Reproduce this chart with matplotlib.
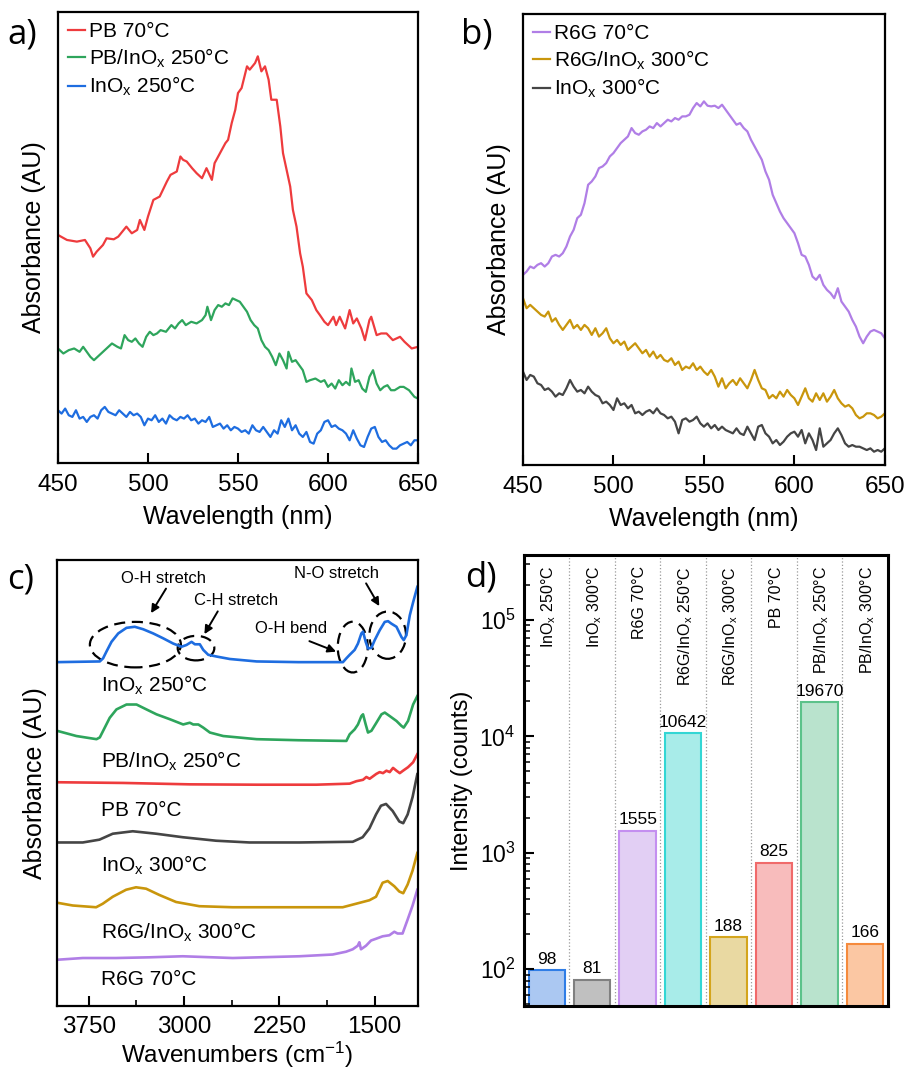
import matplotlib
matplotlib.use("Agg")
import matplotlib.pyplot as plt
from matplotlib.patches import Ellipse
from matplotlib.transforms import blended_transform_factory
from matplotlib.ticker import LogLocator, NullFormatter, MultipleLocator
import numpy as np

plt.rcParams["font.family"] = ["Liberation Sans", "DejaVu Sans"]
plt.rcParams["mathtext.fontset"] = "custom"
plt.rcParams["mathtext.rm"] = "Liberation Sans"
plt.rcParams["mathtext.it"] = "Liberation Sans:italic"
plt.rcParams["mathtext.bf"] = "Liberation Sans:bold"

SUBX = r"InO$_\mathrm{x}$"

# ---------------- panel a: UV-Vis, PB series (arbitrary units) ----------------
wl_pb70 = [450, 455, 460.5, 465, 468, 469.5, 471.5, 475, 477, 481,
           483.5, 486.5, 488, 491, 494, 495.5, 498, 500, 503, 506.5,
           510.5, 512.5, 516, 518, 519.5, 521.5, 524.5, 527, 530, 532.5,
           535.5, 537, 540, 543, 544.5, 546.5, 548.5, 550, 552, 555,
           556.5, 559.5, 561, 563, 565, 567, 568.5, 571.5, 573.5, 575,
           577, 579, 580.5, 582.5, 584.5, 586, 588, 591, 593.5, 595.5,
           598, 600, 603, 604.5, 606.5, 609.5, 612, 614, 616, 618.5,
           620.5, 623, 624, 627, 629.5, 632.5, 636, 640, 642.5, 646.5,
           650]
ab_pb70 = [695, 680, 675, 680, 655, 630, 645, 665, 685, 682,
           690, 710, 720, 700, 710, 740, 710, 750, 800, 810,
           855, 875, 885, 930, 920, 915, 895, 880, 865, 895,
           860, 910, 940, 970, 980, 1030, 1070, 1120, 1135, 1200,
           1190, 1210, 1230, 1185, 1200, 1160, 1100, 1100, 1020, 940,
           890, 840, 770, 720, 640, 600, 520, 500, 470, 455,
           435, 425, 450, 425, 450, 415, 470, 430, 445, 415,
           380, 440, 450, 395, 400, 400, 380, 390, 375, 355,
           360]

wl_pbinox250 = [450, 453, 456, 459, 462, 464, 466, 468, 470, 472,
                474, 477, 480, 483, 485, 487, 489, 491, 493, 495,
                497, 499, 501, 503, 505, 507, 510, 513, 515, 517,
                519, 521, 524, 527, 530, 532, 533, 535, 537, 539,
                541, 543, 545, 547, 549, 551, 553, 555, 557, 559,
                561, 563, 565, 567, 569, 571, 573, 575, 577, 578,
                580, 582, 584, 586, 588, 590, 593, 596, 598, 600,
                602, 604, 606, 608, 610, 612, 613, 615, 617, 619,
                621, 623, 625, 627, 629, 631, 633, 635, 637, 640,
                642, 645, 648, 650]
ab_pbinox250 = [355, 340, 350, 355, 345, 360, 345, 330, 320, 330,
                340, 355, 370, 360, 355, 395, 380, 375, 385, 370,
                360, 390, 405, 395, 400, 410, 405, 425, 415, 430,
                440, 425, 435, 430, 440, 455, 480, 440, 470, 485,
                480, 490, 485, 505, 500, 495, 480, 465, 440, 425,
                415, 380, 360, 350, 330, 305, 340, 320, 295, 345,
                315, 320, 305, 290, 255, 260, 265, 255, 260, 240,
                250, 235, 260, 245, 255, 245, 295, 255, 260, 235,
                225, 270, 290, 250, 230, 240, 245, 230, 230, 240,
                240, 230, 210, 205]

wl_grid = [450, 452, 454, 456, 458, 460, 462, 464, 466, 468,
           470, 472, 474, 476, 478, 480, 482, 484, 486, 488,
           490, 492, 494, 496, 498, 500, 502, 504, 506, 508,
           510, 512, 514, 516, 518, 520, 522, 524, 526, 528,
           530, 532, 534, 536, 538, 540, 542, 544, 546, 548,
           550, 552, 554, 556, 558, 560, 562, 564, 566, 568,
           570, 572, 574, 576, 578, 580, 582, 584, 586, 588,
           590, 592, 594, 596, 598, 600, 602, 604, 606, 608,
           610, 612, 614, 616, 618, 620, 622, 624, 626, 628,
           630, 632, 634, 636, 638, 640, 642, 644, 646, 648,
           650]
ab_inox250 = [170, 160, 175, 155, 150, 170, 145, 150, 135, 150,
              155, 145, 170, 180, 165, 160, 155, 170, 160, 150,
              165, 155, 160, 150, 125, 145, 140, 155, 135, 145,
              130, 155, 145, 140, 150, 145, 155, 140, 145, 130,
              140, 135, 150, 120, 125, 130, 115, 125, 110, 120,
              115, 105, 110, 100, 125, 110, 105, 120, 105, 90,
              110, 100, 140, 120, 145, 110, 125, 100, 90, 105,
              75, 70, 100, 110, 135, 140, 120, 125, 115, 110,
              100, 80, 110, 85, 65, 60, 90, 115, 120, 90,
              75, 80, 65, 55, 55, 65, 70, 75, 65, 80,
              80]

# ---------------- panel b: UV-Vis, R6G series ----------------
ab_r6g70 = [575, 585, 600, 595, 605, 610, 600, 610, 630, 635,
            630, 640, 660, 690, 710, 745, 755, 790, 845, 855,
            870, 895, 900, 910, 930, 940, 955, 970, 980, 990,
            1015, 1000, 995, 1005, 1010, 1020, 1015, 1030, 1020, 1030,
            1040, 1035, 1045, 1040, 1050, 1050, 1055, 1075, 1090, 1080,
            1095, 1082, 1080, 1082, 1075, 1085, 1070, 1055, 1040, 1025,
            1030, 1015, 1005, 980, 960, 940, 920, 885, 860, 815,
            790, 765, 745, 730, 715, 700, 670, 635, 630, 605,
            570, 560, 575, 545, 530, 520, 505, 535, 495, 480,
            465, 440, 420, 390, 370, 390, 405, 410, 405, 400,
            385]
ab_r6ginox300 = [505, 475, 485, 475, 465, 455, 450, 465, 435, 445,
                 425, 410, 425, 440, 415, 425, 410, 425, 415, 395,
                 415, 390, 400, 415, 385, 370, 380, 365, 375, 350,
                 360, 370, 355, 340, 350, 330, 345, 325, 335, 320,
                 315, 325, 305, 315, 290, 300, 295, 310, 290, 300,
                 285, 275, 290, 270, 240, 265, 235, 250, 260, 245,
                 265, 250, 235, 260, 290, 260, 235, 230, 205, 215,
                 205, 225, 210, 230, 215, 205, 185, 210, 235, 205,
                 195, 220, 200, 220, 195, 210, 230, 205, 190, 180,
                 185, 175, 155, 145, 150, 160, 160, 155, 145, 150,
                 160]
ab_inox300 = [285, 260, 275, 270, 250, 245, 230, 235, 225, 210,
              220, 215, 235, 260, 240, 225, 230, 220, 240, 225,
              215, 210, 190, 195, 185, 170, 205, 185, 190, 175,
              185, 160, 165, 155, 165, 170, 160, 175, 160, 155,
              145, 150, 135, 100, 140, 145, 135, 140, 150, 130,
              120, 130, 115, 125, 110, 120, 110, 105, 100, 115,
              100, 95, 120, 100, 80, 120, 125, 100, 90, 70,
              80, 65, 75, 90, 100, 105, 90, 110, 70, 100,
              80, 50, 115, 60, 70, 80, 100, 115, 95, 70,
              60, 65, 60, 60, 55, 50, 55, 45, 50, 45,
              55]

# ---------------- panel c: FTIR (offset, arbitrary units) ----------------
wn_c_inox250 = [4000, 3663, 3637, 3611, 3571, 3518, 3453, 3388, 3322, 3243,
                3164, 3085, 3020, 2981, 2941, 2915, 2876, 2849, 2810, 2744,
                2640, 2429, 2100, 1750, 1723, 1697, 1658, 1632, 1605, 1592,
                1571, 1553, 1526, 1500, 1461, 1421, 1395, 1369, 1329, 1290,
                1272, 1251, 1224, 1198, 1165]
ab_c_inox250 = [995, 997, 1006, 1025, 1053, 1077, 1093, 1096, 1089, 1077,
                1063, 1048, 1039, 1044, 1053, 1046, 1046, 1030, 1016, 1011,
                1004, 997, 995, 995, 1006, 1016, 1030, 1048, 1077, 1082,
                1053, 1034, 1036, 1058, 1086, 1110, 1112, 1105, 1096, 1067,
                1058, 1072, 1129, 1166, 1210]
wn_c_pbinox250 = [4000, 3847, 3689, 3663, 3624, 3585, 3532, 3453, 3374, 3296,
                  3217, 3112, 3007, 2955, 2928, 2888, 2849, 2797, 2692, 2429,
                  2100, 1723, 1697, 1658, 1632, 1605, 1592, 1571, 1553, 1526,
                  1487, 1447, 1421, 1382, 1329, 1290, 1272, 1238, 1198, 1165]
ab_c_pbinox250 = [799, 784, 775, 780, 808, 836, 860, 874, 874, 860,
                  846, 832, 817, 822, 817, 817, 808, 794, 784, 775,
                  772, 770, 789, 803, 817, 841, 846, 817, 794, 799,
                  822, 846, 851, 841, 827, 813, 808, 827, 874, 898]
wn_c_pb70 = [4000, 3479, 2955, 2429, 1959, 1697, 1644, 1592, 1566, 1540,
             1487, 1461, 1435, 1408, 1382, 1356, 1329, 1303, 1277, 1238,
             1198, 1165]
ab_c_pb70 = [652, 650, 646, 645, 645, 648, 655, 659, 667, 662,
             676, 681, 678, 685, 681, 693, 685, 678, 685, 695,
             709, 732]
wn_c_inox300 = [4000, 3797, 3666, 3561, 3404, 3220, 3011, 2748, 2486, 2093,
                1673, 1595, 1542, 1490, 1451, 1411, 1359, 1307, 1276, 1241,
                1202, 1165]
ab_c_inox300 = [480, 480, 488, 505, 512, 505, 495, 485, 480, 480,
                482, 495, 520, 560, 585, 590, 570, 540, 535, 560,
                610, 675]
wn_c_r6ginox300 = [4000, 3876, 3692, 3640, 3561, 3456, 3378, 3299, 3194, 3063,
                   2880, 2617, 2093, 1752, 1647, 1542, 1490, 1438, 1398, 1346,
                   1307, 1276, 1241, 1202, 1165]
ab_c_r6ginox300 = [308, 300, 295, 305, 325, 345, 352, 348, 330, 310,
                   298, 295, 295, 295, 305, 315, 325, 365, 370, 355,
                   340, 335, 360, 400, 450]
wn_c_r6g70 = [4000, 3797, 3535, 3273, 3011, 2617, 2093, 1831, 1726, 1673,
              1634, 1621, 1608, 1569, 1529, 1490, 1438, 1385, 1346, 1320,
              1281, 1241, 1202, 1165]
ab_c_r6g70 = [145, 150, 150, 152, 155, 150, 155, 160, 168, 175,
              185, 195, 175, 185, 200, 205, 212, 215, 225, 220,
              220, 260, 300, 345]

# ---------------- panel d: intensity bars ----------------
d_labels = [SUBX + " 250°C", SUBX + " 300°C", "R6G 70°C",
            "R6G/" + SUBX + " 250°C", "R6G/" + SUBX + " 300°C",
            "PB 70°C", "PB/" + SUBX + " 250°C", "PB/" + SUBX + " 300°C"]
d_counts = [98, 81, 1555, 10642, 188, 825, 19670, 166]
d_edge = ["#2f7de6", "#808080", "#c48ff0", "#33d6d4",
          "#d4a51c", "#f06a6a", "#5cc28a", "#f58a3c"]
d_face = ["#abc8f2", "#c0c0c0", "#e2cff4", "#a8ece9",
          "#e9d9a2", "#f8bcbc", "#b9e3cd", "#fbc7a3"]

RED, GREEN, BLUE = "#ee3b3d", "#2ea55c", "#1e6de0"
PURPLE, GOLD, GRAY = "#b07ee6", "#c9960c", "#454545"

fig = plt.figure(figsize=(9.07, 10.74), dpi=100)
ax_a = fig.add_axes([0.0639, 0.5689, 0.397, 0.420])
ax_b = fig.add_axes([0.5766, 0.5670, 0.399, 0.420])
ax_c = fig.add_axes([0.0628, 0.0630, 0.398, 0.4160])
ax_d = fig.add_axes([0.5777, 0.0630, 0.401, 0.4200])

TICK_FS = 17.5
LAB_FS = 18
LEG = dict(loc="upper left", frameon=False, fontsize=15, handlelength=0.8,
           handletextpad=0.2, labelspacing=0.25, borderaxespad=0.1)


def style_uv(ax):
    for s in ax.spines.values():
        s.set_linewidth(1.6)
    ax.set_xlim(450, 650)
    ax.set_xticks([450, 500, 550, 600, 650])
    ax.tick_params(axis="x", direction="in", length=7, width=1.5,
                   labelsize=TICK_FS, pad=8)
    ax.tick_params(axis="y", left=False, labelleft=False)
    ax.set_xlabel("Wavelength (nm)", fontsize=LAB_FS)
    ax.set_ylabel("Absorbance (AU)", fontsize=LAB_FS)
    ax.xaxis.set_label_coords(0.5, -0.093)
    ax.yaxis.set_label_coords(-0.033, 0.5)


# panel a
ax_a.plot(wl_pb70, ab_pb70, color=RED, lw=1.6, label="PB 70°C")
ax_a.plot(wl_pbinox250, ab_pbinox250, color=GREEN, lw=1.6,
          label="PB/" + SUBX + " 250°C")
ax_a.plot(wl_grid, ab_inox250, color=BLUE, lw=1.6, label=SUBX + " 250°C")
ax_a.set_ylim(12, 1363)
style_uv(ax_a)
ax_a.legend(**LEG)

# panel b
ax_b.plot(wl_grid, ab_r6g70, color=PURPLE, lw=1.6, label="R6G 70°C")
ax_b.plot(wl_grid, ab_r6ginox300, color=GOLD, lw=1.6,
          label="R6G/" + SUBX + " 300°C")
ax_b.plot(wl_grid, ab_inox300, color=GRAY, lw=1.6, label=SUBX + " 300°C")
ax_b.set_ylim(5, 1357)
style_uv(ax_b)
ax_b.legend(**LEG)

# panel c
c_series = [
    (wn_c_inox250, ab_c_inox250, BLUE, SUBX + " 250°C", 930),
    (wn_c_pbinox250, ab_c_pbinox250, GREEN, "PB/" + SUBX + " 250°C", 712),
    (wn_c_pb70, ab_c_pb70, RED, "PB 70°C", 572),
    (wn_c_inox300, ab_c_inox300, GRAY, SUBX + " 300°C", 415),
    (wn_c_r6ginox300, ab_c_r6ginox300, GOLD, "R6G/" + SUBX + " 300°C", 222),
    (wn_c_r6g70, ab_c_r6g70, PURPLE, "R6G 70°C", 90),
]
for wn, ab, col, lab, ly in c_series:
    ax_c.plot(wn, ab, color=col, lw=1.9)
    ax_c.text(3655, ly, lab, fontsize=15, ha="left", va="center")

ellipses = [(3383, 1045, 716, 130), (2906, 1035, 288, 70),
            (1673, 1038, 236, 145), (1398, 1072, 288, 135)]
for cx, cy, w, h in ellipses:
    ax_c.add_patch(Ellipse((cx, cy), w, h, fill=False, ec="k", lw=1.6,
                           ls=(0, (5, 3))))

notes = [("O-H stretch", (3160, 1235), (3142, 1205), (3260, 1135)),
         ("C-H stretch", (2591, 1172), (2735, 1140), (2840, 1075)),
         ("O-H bend", (2158, 1090), (2014, 1055), (1804, 1025)),
         ("N-O stretch", (1804, 1248), (1568, 1220), (1464, 1155))]
for txt, tpos, start, end in notes:
    ax_c.text(tpos[0], tpos[1], txt, fontsize=12, ha="center", va="center")
    ax_c.annotate("", xy=end, xytext=start,
                  arrowprops=dict(arrowstyle="-|>", color="k", lw=1.4,
                                  mutation_scale=12, shrinkA=0, shrinkB=0))

ax_c.set_xlim(4000, 1160)
ax_c.set_ylim(12, 1288)
for s in ax_c.spines.values():
    s.set_linewidth(1.6)
ax_c.set_xticks([3750, 3000, 2250, 1500])
ax_c.xaxis.set_minor_locator(MultipleLocator(375))
ax_c.tick_params(axis="x", which="major", direction="in", length=7,
                 width=1.5, labelsize=TICK_FS, pad=7)
ax_c.tick_params(axis="x", which="minor", direction="in", length=4, width=1.2)
ax_c.tick_params(axis="y", left=False, labelleft=False)
ax_c.set_xlabel(r"Wavenumbers (cm$^{-1}$)", fontsize=17.5)
ax_c.set_ylabel("Absorbance (AU)", fontsize=LAB_FS)
ax_c.xaxis.set_label_coords(0.5, -0.075)
ax_c.yaxis.set_label_coords(-0.027, 0.5)

# panel d
pos = np.arange(len(d_counts))
ax_d.set_yscale("log")
ax_d.bar(pos, d_counts, width=0.8, color=d_face, edgecolor=d_edge, lw=1.5)
ax_d.set_xlim(-0.5, len(d_counts) - 0.5)
ax_d.set_ylim(48, 3.6e5)
for p in pos[:-1]:
    ax_d.axvline(p + 0.5, color="#9a9a9a", ls=":", lw=0.9)
for p, v in zip(pos, d_counts):
    ax_d.text(p, v * 1.07, str(v), ha="center", va="bottom", fontsize=12.5)
trans = blended_transform_factory(ax_d.transData, ax_d.transAxes)
for p, lab in zip(pos, d_labels):
    ax_d.text(p + 0.05, 0.976, lab, transform=trans, rotation=90,
              ha="center", va="top", fontsize=11.5)
for s in ax_d.spines.values():
    s.set_linewidth(2.2)
ax_d.yaxis.set_major_locator(LogLocator(base=10, numticks=10))
ax_d.yaxis.set_minor_locator(LogLocator(base=10, subs=np.arange(2, 10), numticks=10))
ax_d.yaxis.set_minor_formatter(NullFormatter())
ax_d.tick_params(axis="y", which="major", direction="in", length=7, width=1.5,
                 labelsize=16.5, pad=6)
ax_d.tick_params(axis="y", which="minor", direction="in", length=4, width=1.1)
ax_d.tick_params(axis="x", bottom=False, labelbottom=False)
ax_d.set_ylabel("Intensity (counts)", fontsize=17)
ax_d.yaxis.set_label_coords(-0.140, 0.5)

# panel letters
for txt, x, y in [("a)", 0.008, 0.968), ("b)", 0.508, 0.968),
                  ("c)", 0.008, 0.460), ("d)", 0.513, 0.462)]:
    fig.text(x, y, txt, fontsize=25, family="Open Sans", ha="left", va="center")

fig.savefig("out.png", dpi=100)
